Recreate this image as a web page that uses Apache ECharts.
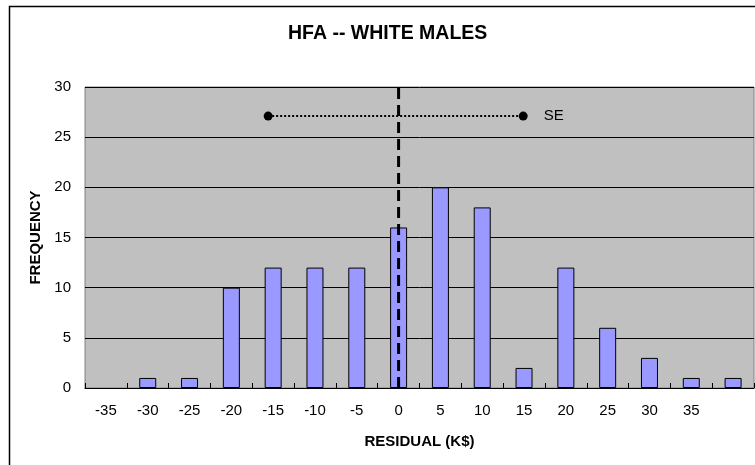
<!DOCTYPE html>
<html>
<head>
<meta charset="utf-8">
<script src="https://cdn.jsdelivr.net/npm/echarts@6/dist/echarts.min.js"></script>
<style>
  html, body { margin: 0; padding: 0; background: #fff; }
  #main { width: 755px; height: 465px; }
</style>
</head>
<body>
<div id="main"></div>
<script>
// residual bins (K$), last bin has no label
var categories = ["-35", "-30", "-25", "-20", "-15", "-10", "-5", "0", "5", "10", "15", "20", "25", "30", "35", ""];
var frequency = [0, 1, 1, 10, 12, 12, 12, 16, 20, 18, 2, 12, 6, 3, 1, 1];
var yTicks = [0, 5, 10, 15, 20, 25, 30];

// SE bar and the zero line, in residual units
var seX = [-15.6, 14.9];
var seY = 27.1;
var zeroX = 0;

var font = '"Liberation Sans", Arial, sans-serif';

var chart = echarts.init(document.getElementById('main'), null, { renderer: 'canvas' });

// 空的柱子不画边框
var barData = frequency.map(function (v) {
  return v === 0 ? { value: v, itemStyle: { borderWidth: 0 } } : v;
});

chart.setOption({
  animation: false,
  backgroundColor: '#fff',
  textStyle: { fontFamily: font, color: '#000' },
  title: {
    text: 'HFA -- WHITE MALES',
    left: 283,
    top: 19,
    textStyle: { fontFamily: font, fontSize: 19.5, fontWeight: 'bold', color: '#000' }
  },
  // 外框，右边和下边被裁掉
  graphic: [{
    type: 'rect',
    shape: { x: 9.5, y: 6.5, width: 800, height: 500 },
    style: { fill: null, stroke: '#000', lineWidth: 1.5 },
    silent: true
  }],
  grid: {
    left: 85,
    top: 87,
    width: 669,
    height: 301,
    show: true,
    backgroundColor: '#C0C0C0',
    borderColor: '#808080',
    borderWidth: 1
  },
  xAxis: [{
    type: 'category',
    data: categories,
    boundaryGap: true,
    axisLine: { lineStyle: { color: '#000', width: 1 } },
    axisTick: { show: true, inside: true, length: 5, alignWithLabel: false, lineStyle: { color: '#000' } },
    axisLabel: { interval: 0, fontSize: 15, color: '#000', margin: 15, fontFamily: font },
    name: 'RESIDUAL (K$)',
    nameLocation: 'middle',
    nameGap: 46,
    nameTextStyle: { fontSize: 15, fontWeight: 'bold', color: '#000', fontFamily: font },
    splitLine: { show: false }
  }, {
    // value axis behind the categories, for the SE bar and zero line
    type: 'value',
    min: -37.5,
    max: 42.5,
    show: false
  }],
  yAxis: {
    type: 'value',
    min: yTicks[0],
    max: yTicks[yTicks.length - 1],
    interval: 5,
    axisLine: { show: false },
    axisTick: { show: false },
    axisLabel: { fontSize: 15, color: '#000', margin: 14, fontFamily: font },
    splitLine: { lineStyle: { color: '#000', width: 1 } },
    name: 'FREQUENCY',
    nameLocation: 'middle',
    nameGap: 42,
    nameTextStyle: { fontSize: 15, fontWeight: 'bold', color: '#000', fontFamily: font }
  },
  series: [
    {
      type: 'bar',
      data: barData,
      barWidth: 17,
      itemStyle: { color: '#9999FF', borderColor: '#000', borderWidth: 1 }
    },
    {
      type: 'line',
      xAxisIndex: 1,
      data: [[zeroX, yTicks[0]], [zeroX, yTicks[yTicks.length - 1]]],
      symbol: 'none',
      lineStyle: { color: '#000', width: 3, type: [11, 6] },
      z: 5
    },
    {
      type: 'line',
      xAxisIndex: 1,
      data: [
        [seX[0], seY],
        { value: [seX[1], seY], label: { show: true, formatter: 'SE', position: 'right', distance: 16, fontSize: 15, color: '#000', fontFamily: font } }
      ],
      symbol: 'circle',
      symbolSize: 9,
      itemStyle: { color: '#000' },
      lineStyle: { color: '#000', width: 2, type: 'dotted' },
      z: 6
    }
  ]
});
</script>
</body>
</html>
